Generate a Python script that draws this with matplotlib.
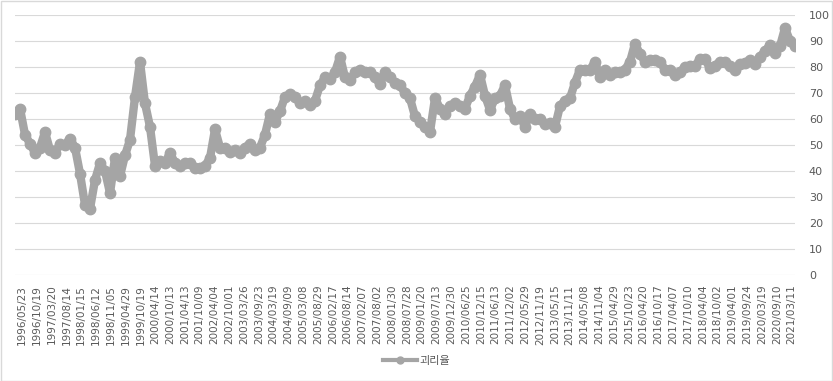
import numpy as np
import matplotlib.pyplot as plt
from matplotlib.lines import Line2D
from matplotlib.patches import Rectangle

plt.rcParams['font.family'] = ['Noto Sans CJK KR', 'DejaVu Sans']

# 괴리율 (evenly spaced samples)
values = [
    62, 64, 54, 50.5, 47, 49, 55, 48, 47, 50.5, 50, 52.5, 49, 39, 27, 25.5,
    36.5, 43, 40, 31.5, 45, 38, 46, 52, 68.5, 82, 66, 57, 42, 44, 43, 47,
    43, 42, 43, 43, 41, 41, 42, 45, 56, 49, 49, 47.5, 48, 47, 49, 50.5,
    48, 49, 54, 62, 59, 63, 68.5, 69.5, 68.5, 66, 67, 65.5, 67, 73, 76,
    75.5, 78, 84, 76, 75, 78, 79, 78, 78, 76, 73.5, 78, 76, 74, 73, 70,
    68, 61, 59, 57, 55, 68, 64, 62, 65, 66, 65, 64, 69, 72.5, 77, 69,
    63.5, 68, 69, 73, 64, 60, 61, 57, 62, 60, 60, 58, 58.5, 57, 65, 67,
    68, 74, 79, 79, 79, 82, 76, 79, 77, 78, 78, 79, 82, 89, 85, 82,
    82.7, 82.7, 82, 79, 79, 77, 78, 80, 80.5, 80.5, 83, 83, 79.5, 80.5,
    82, 82, 80.5, 79, 81, 81.5, 82.7, 81, 84, 86, 88.5, 85.5, 88, 95,
    90, 88,
]

tick_labels = [
    '1996/05/23', '1996/10/19', '1997/03/20', '1997/08/14', '1998/01/15',
    '1998/06/12', '1998/11/05', '1999/04/29', '1999/10/19', '2000/04/14',
    '2000/10/13', '2001/04/13', '2001/10/09', '2002/04/04', '2002/10/01',
    '2003/03/26', '2003/09/23', '2004/03/19', '2004/09/09', '2005/03/08',
    '2005/08/29', '2006/02/17', '2006/08/14', '2007/02/07', '2007/08/02',
    '2008/01/30', '2008/07/28', '2009/01/20', '2009/07/13', '2009/12/30',
    '2010/06/25', '2010/12/15', '2011/06/13', '2011/12/02', '2012/05/29',
    '2012/11/19', '2013/05/15', '2013/11/11', '2014/05/08', '2014/11/04',
    '2015/04/29', '2015/10/23', '2016/04/20', '2016/10/17', '2017/04/07',
    '2017/10/10', '2018/04/04', '2018/10/02', '2019/04/01', '2019/09/24',
    '2020/03/19', '2020/09/10', '2021/03/11',
]

grey = '#A5A5A5'
text_c = '#595959'

fig = plt.figure(figsize=(8.33, 3.81), dpi=100)
ax = fig.add_axes([15 / 833, 1 - 275 / 381, 780 / 833, 260 / 381])

x = np.arange(len(values))
ax.plot(x, values, color=grey, lw=6, marker='o', ms=7.5, mec=grey, mfc=grey,
        solid_joinstyle='round', solid_capstyle='round')

ax.set_ylim(0, 100)
ax.set_yticks(range(0, 101, 10))
ax.set_xlim(0, len(values) - 1)
ticks = 1.4 + 2.96 * np.arange(len(tick_labels))
ax.set_xticks(ticks)
ax.set_xticklabels(tick_labels, rotation=90, fontsize=7.5, color=text_c,
                   family=['DejaVu Sans'])

ax.yaxis.tick_right()
ax.tick_params(axis='y', length=0, pad=10, labelsize=8, labelcolor=text_c)
ax.tick_params(axis='x', length=0, pad=7)
for lab in ax.get_yticklabels():
    lab.set_family(['DejaVu Sans'])
ax.grid(axis='y', color='#D9D9D9', lw=0.8)
ax.set_axisbelow(True)
for s in ax.spines.values():
    s.set_visible(False)

handle = Line2D([], [], color=grey, lw=3, marker='o', ms=5)
fig.legend([handle], ['괴리율'], loc='center', bbox_to_anchor=(0.5, 0.052),
           frameon=False, fontsize=8, labelcolor=text_c, handlelength=3,
           handletextpad=0.2)

fig.patches.append(Rectangle((0.001, 0.001), 0.998, 0.997, transform=fig.transFigure,
                             fill=False, ec='#D9D9D9', lw=1))

fig.savefig('out.png', dpi=100)
